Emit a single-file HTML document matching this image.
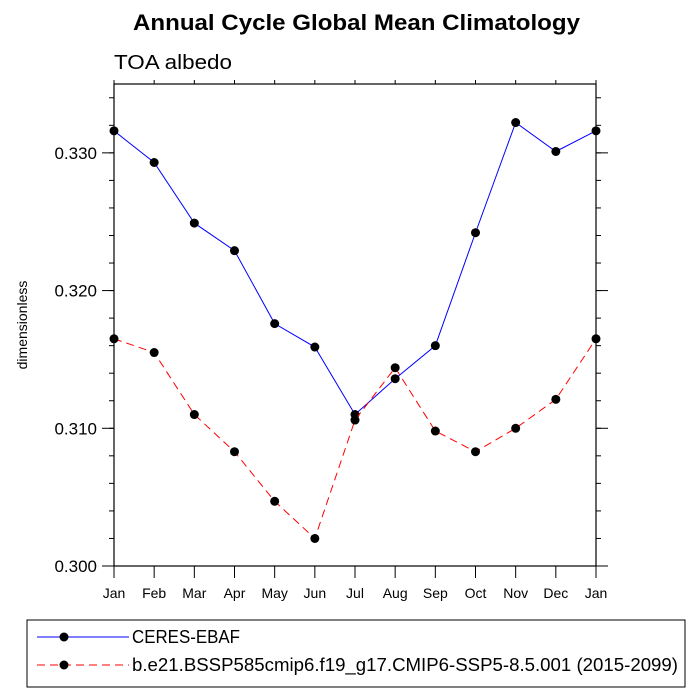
<!DOCTYPE html>
<html><head><meta charset="utf-8"><style>
body{margin:0;background:#fff;}
svg{display:block;font-family:"Liberation Sans",Arial,sans-serif;}
</style></head><body>
<svg id="chart" width="700" height="700">
<text x="133" y="30" textLength="447" lengthAdjust="spacingAndGlyphs" font-size="22" font-weight="bold">Annual Cycle Global Mean Climatology</text>
<text x="114" y="69" textLength="118" lengthAdjust="spacingAndGlyphs" font-size="20">TOA albedo</text>
<text transform="translate(27,325) rotate(-90)" text-anchor="middle" font-size="14">dimensionless</text>
<g id="axes"></g>
<g id="series"></g>
<rect x="27" y="620" width="658" height="67" fill="none" stroke="#000" stroke-width="1"/>
<g>
<line x1="37" y1="637" x2="129" y2="637" stroke="#00f" stroke-width="1"/>
<circle cx="64" cy="637" r="4.5" fill="#000"/>
<text x="132" y="643" font-size="18" textLength="108" lengthAdjust="spacingAndGlyphs">CERES-EBAF</text>
</g>
<g>
<line x1="37" y1="665" x2="129" y2="665" stroke="#f00" stroke-width="1" stroke-dasharray="8,5"/>
<circle cx="64" cy="665" r="4.5" fill="#000"/>
<text x="132" y="671" font-size="18" textLength="546" lengthAdjust="spacingAndGlyphs">b.e21.BSSP585cmip6.f19_g17.CMIP6-SSP5-8.5.001 (2015-2099)</text>
</g>
</svg>
<script>
const months = ["Jan","Feb","Mar","Apr","May","Jun","Jul","Aug","Sep","Oct","Nov","Dec","Jan"];
const ceres = [0.3316,0.3293,0.3249,0.3229,0.3176,0.3159,0.3110,0.3136,0.3160,0.3242,0.3322,0.3301,0.3316];
const model = [0.3165,0.3155,0.3110,0.3083,0.3047,0.3020,0.3106,0.3144,0.3098,0.3083,0.3100,0.3121,0.3165];
const yTicks = [0.300,0.310,0.320,0.330];
const yTickLabels = ["0.300","0.310","0.320","0.330"];
const L=114,R=596,T=84,B=566,yMin=0.300,yMax=0.335;
const NS="http://www.w3.org/2000/svg";
function xs(i){return L+(R-L)*i/(months.length-1);}
function ys(v){return B-(v-yMin)/(yMax-yMin)*(B-T);}
function mk(tag,attrs,parent){const e=document.createElementNS(NS,tag);for(const k in attrs)e.setAttribute(k,attrs[k]);parent.appendChild(e);return e;}
const ax=document.getElementById('axes');
const frame=mk('rect',{x:L,y:T,width:R-L,height:B-T,fill:'none',stroke:'#000','stroke-width':1.2},ax);


months.forEach((m,i)=>{
  const x=xs(i);
  mk('line',{x1:x,y1:B,x2:x,y2:B+12,stroke:'#000'},ax);
  mk('line',{x1:x,y1:T,x2:x,y2:T-4,stroke:'#000'},ax);
  const t=mk('text',{x:x,y:B+32,'text-anchor':'middle','font-size':14},ax);
  t.textContent=m;
  
  
});
for(let v=yMin;v<=yMax+1e-9;v+=0.002){
  const y=ys(v);
  mk('line',{x1:L,y1:y,x2:L-5,y2:y,stroke:'#000'},ax);
  mk('line',{x1:R,y1:y,x2:R+5,y2:y,stroke:'#000'},ax);
}
yTicks.forEach((v,i)=>{
  const y=ys(v);
  mk('line',{x1:L,y1:y,x2:L-12,y2:y,stroke:'#000'},ax);
  mk('line',{x1:R,y1:y,x2:R+12,y2:y,stroke:'#000'},ax);
  const t=mk('text',{x:L-17,y:y+6,'text-anchor':'end','font-size':17},ax);
  t.textContent=yTickLabels[i];
  
  
});
const sg=document.getElementById('series');
function draw(vals,color,dash,name){
  const g=mk('g',{},sg);
  
  
  const pts=vals.map((v,i)=>xs(i)+','+ys(v)).join(' ');
  const a={points:pts,fill:'none',stroke:color,'stroke-width':1};
  if(dash)a['stroke-dasharray']=dash;
  mk('polyline',a,g);
  vals.forEach((v,i)=>{const c=mk('circle',{cx:xs(i),cy:ys(v),r:4.5,fill:'#000'},g);
    
    });
}
draw(ceres,'#00f',null,'series-ceres');
draw(model,'#f00','8,5','series-model');
</script>
</body></html>
